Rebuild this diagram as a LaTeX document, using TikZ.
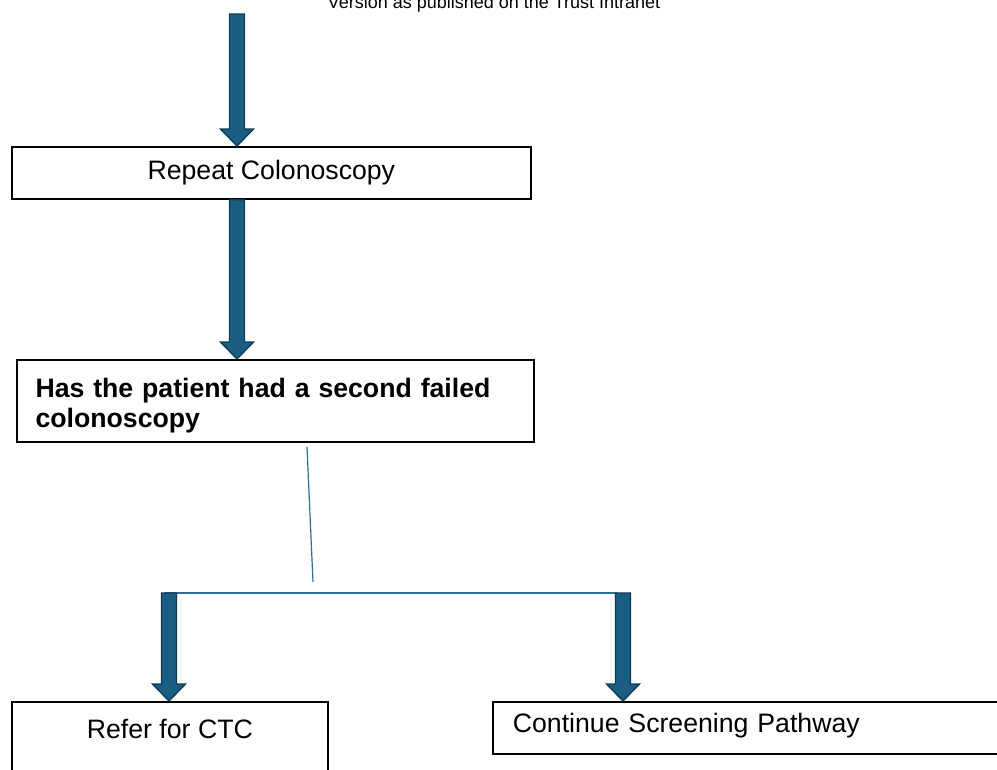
\documentclass[tikz,border=0pt]{standalone}
\usepackage{fontspec}
\setmainfont{Liberation Sans}
\usepackage{tikz}
\usetikzlibrary{calc}

\definecolor{arrowfill}{RGB}{26,94,130}
\definecolor{arrowline}{RGB}{15,59,85}
\definecolor{linkblue}{RGB}{42,111,151}

\newcommand{\blockarrow}[2]{%
  \draw[blockarr] let \p1=(#1), \p2=(#2) in
    (\x1-5.6pt,\y1) -- (\x1+5.6pt,\y1) -- (\x1+5.6pt,\y2+12.75pt) -- (\x1+12.4pt,\y2+12.75pt)
    -- (\x1,\y2) -- (\x1-12.4pt,\y2+12.75pt) -- (\x1-5.6pt,\y2+12.75pt) -- cycle;}

\begin{document}
\begin{tikzpicture}[x=0.75pt, y=-0.75pt]
                \tikzstyle{flowbox} = [draw, line width=1.3pt, inner sep=0pt, anchor=north west, font=\fontsize{20}{20.25}\selectfont]
                \tikzstyle{blockarr} = [fill=arrowfill, draw=arrowline, line width=1pt]
                \tikzstyle{thinlink} = [draw=linkblue, line width=0.9pt]
                \useasboundingbox (0,0) rectangle (997,769);
                \node[anchor=base, font=\fontsize{13.5}{16}\selectfont] (hdr) at (494,8) {Version as published on the Trust Intranet};
                \node[flowbox, minimum width=389.25pt, minimum height=39pt] (rep) at (11,146) {Repeat Colonoscopy};
                \node[flowbox, minimum width=387.75pt, minimum height=61.5pt, text width=359.75pt, align=left, inner xsep=14pt,
                      text height=22pt, text depth=26.5pt, font=\fontsize{20}{22}\selectfont\bfseries] (quest) at (16,359) {Has the patient had a second failed\\colonoscopy};
                \node[flowbox, minimum width=237pt, inner ysep=4pt, text height=23.75pt, text depth=58pt] (ctc) at (11,701) {Refer for CTC};
                \node[flowbox, minimum width=396pt, minimum height=39pt, text width=366pt, align=left, inner xsep=15pt,
                      text height=14pt, text depth=7pt] (cont) at (492,701) {Continue Screening Pathway};
                \coordinate (start) at (237,14);
                \coordinate (qlow) at (307,447);
                \coordinate (split) at (313,582);
                \coordinate (la) at (169,593);
                \coordinate (ra) at (623,593);
                \blockarrow{start}{start |- rep.north}
                \blockarrow{start |- rep.south}{start |- quest.north}
                \draw[thinlink] (qlow) -- (split);
                \draw[thinlink] ($(la)+(-4,0)$) -- ($(ra)+(-6,0)$);
                \blockarrow{la}{la |- ctc.north}
                \blockarrow{ra}{ra |- cont.north}
            \end{tikzpicture}
\end{document}
